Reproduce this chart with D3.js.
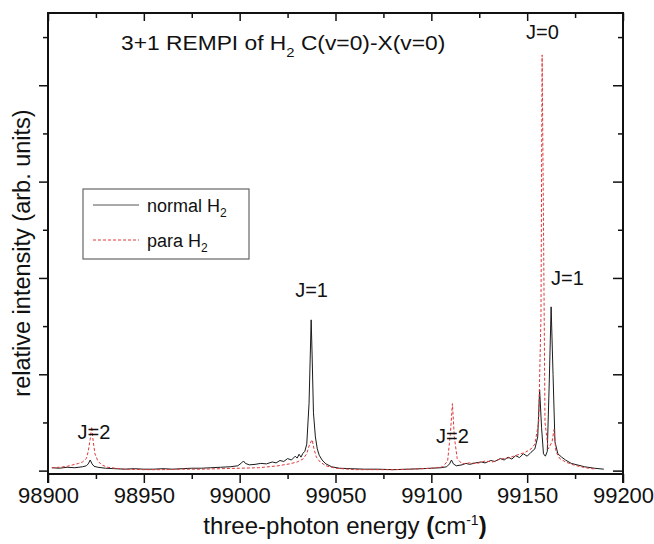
<!DOCTYPE html>
<html>
<head>
<meta charset="utf-8">
<script src="https://cdn.jsdelivr.net/npm/d3@7"></script>
<style>
  body { margin: 0; background: #fff; }
  svg text { font-family: "Liberation Sans", Arial, sans-serif; fill: #111; }
</style>
</head>
<body>
<svg id="chart" width="654" height="544"></svg>
<script>
const normalX = [98902, 98906, 98910, 98914, 98918, 98920, 98921, 98922, 98923, 98924, 98926, 98930, 98935, 98940, 98945, 98950, 98955, 98960, 98965, 98970, 98975, 98980, 98985, 98990, 98995, 98999, 99001, 99002, 99003, 99005, 99008, 99011, 99014, 99017, 99019, 99021, 99023, 99025, 99027, 99029, 99030, 99031, 99032, 99033, 99034, 99035, 99036.2, 99037.3, 99037.8, 99038.5, 99039.5, 99040.5, 99041.5, 99043, 99045, 99048, 99052, 99058, 99065, 99072, 99080, 99088, 99095, 99100, 99105, 99108, 99109.5, 99110.5, 99111.5, 99113, 99116, 99118, 99120, 99123, 99126, 99128, 99131, 99133, 99136, 99138, 99140, 99142, 99144, 99146, 99148, 99150, 99152, 99154, 99155.5, 99156.5, 99157.5, 99158.5, 99159.5, 99160.5, 99161.5, 99162.5, 99163.5, 99164.5, 99166, 99168, 99170, 99173, 99176, 99180, 99185, 99190]
const normalY = [0.06, 0.05, 0.07, 0.06, 0.08, 0.10, 0.14, 0.22, 0.14, 0.09, 0.07, 0.05, 0.04, 0.03, 0.04, 0.03, 0.03, 0.04, 0.03, 0.04, 0.05, 0.05, 0.06, 0.07, 0.08, 0.10, 0.16, 0.20, 0.15, 0.12, 0.13, 0.15, 0.14, 0.18, 0.16, 0.21, 0.19, 0.25, 0.22, 0.30, 0.26, 0.34, 0.28, 0.36, 0.40, 0.55, 1.40, 3.13, 2.40, 1.20, 0.70, 0.45, 0.32, 0.22, 0.14, 0.08, 0.05, 0.04, 0.03, 0.03, 0.02, 0.03, 0.04, 0.05, 0.06, 0.08, 0.14, 0.22, 0.14, 0.10, 0.12, 0.15, 0.13, 0.16, 0.18, 0.16, 0.21, 0.19, 0.25, 0.22, 0.28, 0.24, 0.31, 0.27, 0.35, 0.30, 0.38, 0.45, 0.70, 1.68, 0.90, 0.35, 0.30, 0.40, 1.80, 3.40, 2.00, 0.60, 0.35, 0.28, 0.22, 0.15, 0.12, 0.08, 0.05, 0.03]

const paraX = [98902, 98906, 98910, 98913, 98916, 98918, 98920, 98921, 98922, 98922.8, 98923.6, 98924.5, 98926, 98928, 98931, 98935, 98940, 98950, 98960, 98970, 98980, 98990, 99000, 99010, 99020, 99026, 99030, 99033, 99035, 99036.5, 99037.8, 99038.8, 99040, 99042, 99045, 99050, 99060, 99070, 99080, 99090, 99100, 99106, 99108.5, 99110, 99111, 99112, 99113.5, 99116, 99120, 99124, 99128, 99132, 99136, 99140, 99143, 99146, 99149, 99152, 99154, 99156, 99157.2, 99157.8, 99158.6, 99159.3, 99161, 99163, 99164, 99165, 99167, 99170, 99174, 99178, 99182, 99186]
const paraY = [0.06, 0.07, 0.09, 0.12, 0.15, 0.18, 0.25, 0.40, 0.65, 0.91, 0.60, 0.35, 0.20, 0.12, 0.07, 0.05, 0.03, 0.02, 0.02, 0.03, 0.03, 0.04, 0.05, 0.06, 0.10, 0.14, 0.18, 0.24, 0.35, 0.55, 0.64, 0.45, 0.28, 0.18, 0.10, 0.05, 0.02, 0.02, 0.02, 0.03, 0.05, 0.08, 0.20, 0.80, 1.39, 0.70, 0.25, 0.14, 0.16, 0.15, 0.20, 0.18, 0.24, 0.26, 0.30, 0.34, 0.38, 0.45, 0.55, 1.00, 3.20, 8.63, 4.69, 1.00, 0.45, 0.60, 0.85, 0.40, 0.25, 0.18, 0.12, 0.08, 0.05, 0.03]

const xMajor = [98900, 98950, 99000, 99050, 99100, 99150, 99200]
const xMinor = [98925, 98975, 99025, 99075, 99125, 99175]
const yMajor = [0, 2, 4, 6, 8]
const yMinor = [1, 3, 5, 7, 9]

const peakLabels = [
    {text: "J=2", x: 98924, y: 0.65},
    {text: "J=1", x: 99037.5, y: 3.6},
    {text: "J=2", x: 99111, y: 0.58},
    {text: "J=0", x: 99158, y: 8.95},
    {text: "J=1", x: 99171, y: 3.85}
]

const svg = d3.select("#chart")
const plotL = 48, plotR = 623, plotT = 13, plotB = 474

const x = d3.scaleLinear().domain([98900, 99200]).range([plotL, plotR])
const y = d3.scaleLinear().domain([-0.07, 9.5]).range([plotB, plotT])

const line = d3.line().x(d => x(d[0])).y(d => y(d[1]))

svg.append("path")
    .datum(d3.zip(normalX, normalY))
    .attr("d", line)
    .attr("fill", "none")
    .attr("stroke", "#1a1a1a")
    .attr("stroke-width", 1)

svg.append("path")
    .datum(d3.zip(paraX, paraY))
    .attr("d", line)
    .attr("fill", "none")
    .attr("stroke", "#e0393a")
    .attr("stroke-width", 1)
    .attr("stroke-dasharray", "3,2")

function label(g, txt, px, py, size, anchor = "middle", sx = 1) {
    return g.append("text")
        .attr("transform", `translate(${px},${py}) scale(${sx},1)`)
        .attr("text-anchor", anchor)
        .attr("font-size", size)
        .text(txt)
}

// axes: bottom/left ticks outward, top/right ticks inward
function tidy(g) {
    g.select(".domain").remove()
    g.selectAll(".tick line").attr("stroke", "#111").attr("stroke-width", 1.5)
}

svg.append("g").attr("transform", `translate(0,${plotB})`)
    .call(d3.axisBottom(x).tickValues(xMajor).tickSize(9).tickPadding(4).tickFormat(d3.format("d")))
    .call(tidy)
    .call(g => g.selectAll(".tick text")
        .attr("font-size", 22)
        .attr("fill", "#111")
        .attr("font-family", "Liberation Sans, Arial, sans-serif"))
svg.append("g").attr("transform", `translate(0,${plotB})`)
    .call(d3.axisBottom(x).tickValues(xMinor).tickSize(5).tickFormat(""))
    .call(tidy)

svg.append("g").attr("transform", `translate(0,${plotT})`)
    .call(d3.axisBottom(x).tickValues(xMajor).tickSize(8).tickFormat(""))
    .call(tidy)
svg.append("g").attr("transform", `translate(0,${plotT})`)
    .call(d3.axisBottom(x).tickValues(xMinor).tickSize(5).tickFormat(""))
    .call(tidy)

svg.append("g").attr("transform", `translate(${plotL},0)`)
    .call(d3.axisLeft(y).tickValues(yMajor).tickSize(9).tickFormat(""))
    .call(tidy)
svg.append("g").attr("transform", `translate(${plotL},0)`)
    .call(d3.axisLeft(y).tickValues(yMinor).tickSize(5).tickFormat(""))
    .call(tidy)

svg.append("g").attr("transform", `translate(${plotR},0)`)
    .call(d3.axisLeft(y).tickValues(yMajor).tickSize(10).tickFormat(""))
    .call(tidy)
svg.append("g").attr("transform", `translate(${plotR},0)`)
    .call(d3.axisLeft(y).tickValues(yMinor).tickSize(5).tickFormat(""))
    .call(tidy)

// frame
const frame = svg.append("g").attr("stroke", "#111").attr("stroke-width", 2)
frame.append("line").attr("x1", plotL).attr("x2", plotL).attr("y1", plotT - 1).attr("y2", plotB + 9)
frame.append("line").attr("x1", plotR).attr("x2", plotR).attr("y1", plotT - 1).attr("y2", plotB + 9)
frame.append("line").attr("x1", plotL).attr("x2", plotR).attr("y1", plotT).attr("y2", plotT)
frame.append("line").attr("x1", plotL).attr("x2", plotR).attr("y1", plotB).attr("y2", plotB)

// peak labels
peakLabels.forEach(p => label(svg, p.text, x(p.x), y(p.y), 20))

// title
const title = label(svg, "3+1 REMPI of H", 121, 50, 20, "start", 1.14)
title.append("tspan").attr("font-size", 13).attr("dy", 7).text("2")
title.append("tspan").attr("dy", -7).text(" C(v=0)-X(v=0)")

// axis titles
const xTitle = label(svg, "three-photon energy ", 345, 534, 24)
xTitle.append("tspan").attr("font-weight", "bold").text("(")
xTitle.append("tspan").text("cm")
xTitle.append("tspan").attr("font-size", 14).attr("dy", -9).text("-1")
xTitle.append("tspan").attr("dy", 9).attr("font-weight", "bold").text(")")

svg.append("text")
    .attr("transform", `translate(30,253) rotate(-90)`)
    .attr("text-anchor", "middle")
    .attr("font-size", 23.5)
    .text("relative intensity (arb. units)")

// legend
const legend = svg.append("g")
legend.append("rect")
    .attr("x", 83).attr("y", 189).attr("width", 166).attr("height", 70)
    .attr("fill", "#fff").attr("stroke", "#666").attr("stroke-width", 1.2)
legend.append("line").attr("x1", 93).attr("x2", 139).attr("y1", 205).attr("y2", 205)
    .attr("stroke", "#555").attr("stroke-width", 1)
legend.append("line").attr("x1", 93).attr("x2", 139).attr("y1", 240).attr("y2", 240)
    .attr("stroke", "#e0393a").attr("stroke-width", 1).attr("stroke-dasharray", "3,2")
const l1 = label(legend, "normal H", 147, 212, 18, "start")
l1.append("tspan").attr("font-size", 12).attr("dy", 5).text("2")
const l2 = label(legend, "para H", 147, 247, 18, "start")
l2.append("tspan").attr("font-size", 12).attr("dy", 5).text("2")
</script>
</body>
</html>
